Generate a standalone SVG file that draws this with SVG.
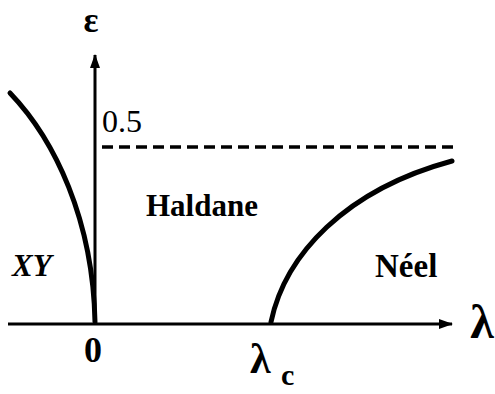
<svg xmlns="http://www.w3.org/2000/svg" width="495" height="394" viewBox="0 0 495 394">
<style>
.t{font-family:"Liberation Serif","Times New Roman",serif;font-weight:bold;fill:#000}
.axis{stroke:#000;stroke-width:3;fill:none}
.curve{stroke:#000;stroke-width:5;fill:none;stroke-linecap:round}
.dash{stroke:#000;stroke-width:3.5;stroke-dasharray:11 6;fill:none}
</style>
<defs>
<marker id="ah" markerWidth="14" markerHeight="10" refX="13" refY="5" orient="auto" markerUnits="userSpaceOnUse">
<path d="M0,0 L14,5 L0,10 Z" fill="#000"/>
</marker>
</defs>
<rect width="495" height="394" fill="#fff"/>
<g id="connectors">
<line class="axis" x1="8" y1="324" x2="452" y2="324" marker-end="url(#ah)"/>
<line class="axis" x1="95" y1="324" x2="95" y2="55" marker-end="url(#ah)"/>
<line class="dash" x1="102" y1="147" x2="453" y2="147"/>
<path class="curve" d="M10,93 C55,140 93,220 95,322"/>
<path class="curve" d="M271,322 C285,255 345,190 452,161"/>
</g>
<g id="labels">
<text class="t" x="91" y="32" style="font-size:35px" text-anchor="middle">ε</text>
<text class="t" x="102" y="132" style="font-size:32px;font-weight:normal">0.5</text>
<text class="t" x="146" y="216" style="font-size:31px">Haldane</text>
<text class="t" x="12" y="276" style="font-size:31px;font-style:italic">XY</text>
<text class="t" x="375" y="277" style="font-size:33px">Néel</text>
<text class="t" x="93" y="362" style="font-size:36px" text-anchor="middle">0</text>
<text class="t" x="482" y="338" style="font-size:48px" text-anchor="middle">λ</text>
<text class="t" x="250" y="373" style="font-size:42px">λ</text>
<text class="t" x="281" y="385" style="font-size:30px">c</text>
</g>
</svg>
